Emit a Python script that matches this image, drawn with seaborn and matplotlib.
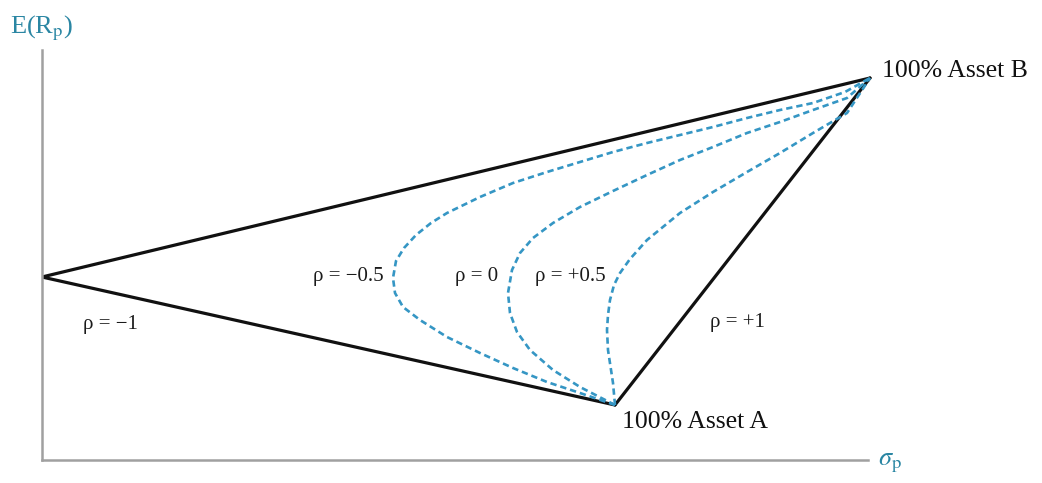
import pandas as pd
import numpy as np
import seaborn as sns
import matplotlib
matplotlib.use("Agg")
import matplotlib.pyplot as plt

# points (sigma, expected return), origin at the axes corner
left_pt = (0, 183)
asset_a = (573, 55)
asset_b = (828, 382)

rho_m05_sigma = [573, 538, 505, 471, 438, 405, 378, 361, 353, 351, 354, 362, 374, 389, 405, 438,
                 471, 505, 538, 571, 605, 638, 671, 705, 738, 771, 803, 828]
rho_m05_er = [55, 67, 78, 92, 107, 123, 140, 153, 167, 182, 199, 212, 225, 237, 247, 263,
              277, 288, 298, 308, 317, 325, 333, 342, 350, 357, 368, 382]

rho_0_sigma = [573, 538, 511, 488, 475, 468, 466, 470, 478, 491, 511, 538, 571, 605, 638,
               671, 705, 738, 771, 805, 828]
rho_0_er = [55, 73, 90, 110, 128, 147, 167, 190, 207, 222, 237, 253, 269, 285, 300,
            313, 327, 338, 350, 362, 382]

rho_p05_sigma = [573, 571, 566, 565, 566, 568, 572, 578, 588, 605, 638, 671, 705, 738, 771, 805, 828]
rho_p05_er = [55, 77, 110, 130, 145, 160, 175, 187, 201, 220, 247, 268, 288, 307, 327, 347, 382]

labels = ["ρ = −1", "ρ = −0.5", "ρ = 0", "ρ = +0.5", "ρ = +1"]
label_pos = [(68, 135), (306, 184), (435, 184), (528, 184), (695, 137)]

solid = pd.DataFrame({
    "sigma": [left_pt[0], asset_b[0], left_pt[0], asset_a[0], asset_a[0], asset_b[0]],
    "er": [left_pt[1], asset_b[1], left_pt[1], asset_a[1], asset_a[1], asset_b[1]],
    "line": ["up", "up", "down", "down", "ab", "ab"],
})

dashed = pd.concat([
    pd.DataFrame({"sigma": rho_m05_sigma, "er": rho_m05_er, "rho": "-0.5"}),
    pd.DataFrame({"sigma": rho_0_sigma, "er": rho_0_er, "rho": "0"}),
    pd.DataFrame({"sigma": rho_p05_sigma, "er": rho_p05_er, "rho": "+0.5"}),
])

sns.set_style("white")
plt.rcParams["font.family"] = ["Liberation Serif", "DejaVu Serif"]
plt.rcParams["mathtext.fontset"] = "stix"

fig = plt.figure(figsize=(10.42, 4.83), dpi=100)
ax = fig.add_axes([42 / 1042, 23 / 483, 1000 / 1042, 460 / 483])

for name, grp in solid.groupby("line", sort=False):
    sns.lineplot(data=grp, x="sigma", y="er", sort=False, estimator=None,
                 color="#111111", lw=2.3, ax=ax)

blue = "#3596c4"
for name, grp in dashed.groupby("rho", sort=False):
    sns.lineplot(data=grp, x="sigma", y="er", sort=False, estimator=None, color=blue,
                 lw=1.9, ax=ax, linestyle=(0, (2.4, 1.5)))

ax.set_xlim(0, 1000)
ax.set_ylim(0, 460)
ax.set_xticks([])
ax.set_yticks([])
ax.set_xlabel("")
ax.set_ylabel("")
for s in ["top", "right"]:
    ax.spines[s].set_visible(False)
for s in ["left", "bottom"]:
    ax.spines[s].set_color("#a0a0a0")
    ax.spines[s].set_linewidth(1.8)
ax.spines["left"].set_bounds(0, 410)
ax.spines["bottom"].set_bounds(0, 826)

for txt, (x, y) in zip(labels, label_pos):
    ax.text(x, y, txt, fontsize=15, ha="center", va="center", color="#1a1a1a")

ax.text(580, 38, "100% Asset A", fontsize=18.5, ha="left", va="center", color="#111111")
ax.text(840, 389, "100% Asset B", fontsize=18.5, ha="left", va="center", color="#111111")

teal = "#2a86a3"
ax.text(-32, 432, r"E(R$_{\rm p}$)", fontsize=19, ha="left", va="center", color=teal, clip_on=False)
ax.text(836, -3, r"$\sigma_{\rm p}$", fontsize=19, ha="left", va="center", color=teal, clip_on=False)

plt.savefig("out.png", dpi=100)
